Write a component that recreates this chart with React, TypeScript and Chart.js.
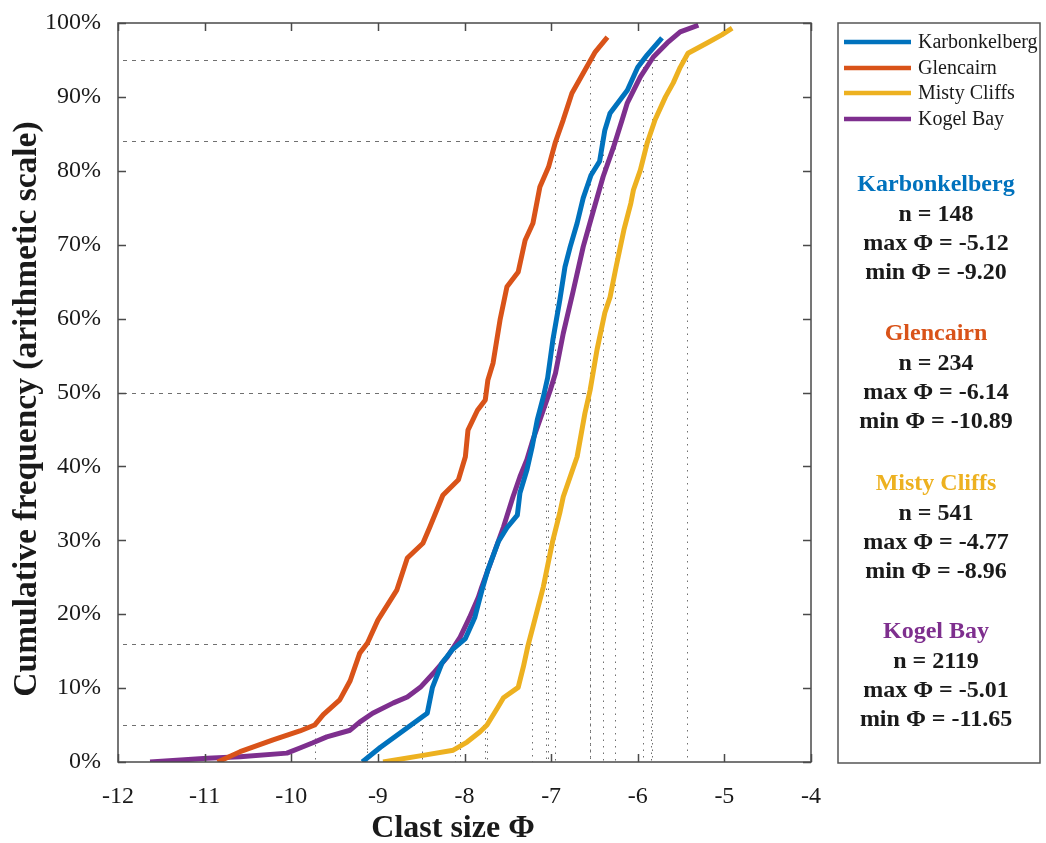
import React, { useEffect, useRef } from 'react';
import { Chart, registerables } from 'chart.js';

Chart.register(...registerables);

// ---------- data ----------
const seriesNames = ['Karbonkelberg', 'Glencairn', 'Misty Cliffs', 'Kogel Bay'];
const seriesColors = ['#0072BD', '#D95319', '#EDB120', '#7E2F8E'];

const karbonPhi = [-9.18, -8.97, -8.43, -8.37, -8.26, -8.14, -7.99, -7.88, -7.80, -7.73, -7.61, -7.51, -7.39, -7.36, -7.28, -7.22, -7.16, -7.09, -7.04, -6.98, -6.90, -6.84, -6.78, -6.70, -6.63, -6.54, -6.44, -6.38, -6.32, -6.12, -6.00, -5.89, -5.72];
const karbonPct = [0, 2, 6.6, 10.1, 13.4, 15.2, 16.7, 19.6, 23.2, 26, 29.8, 31.7, 33.4, 36.4, 39.5, 42.6, 46.3, 49.4, 52, 57.1, 62.5, 67, 69.7, 72.9, 76.3, 79.4, 81.3, 85.5, 87.8, 90.9, 94, 95.7, 98];

const glenPhi = [-10.85, -10.59, -10.21, -9.90, -9.73, -9.63, -9.44, -9.32, -9.21, -9.12, -9.00, -8.78, -8.66, -8.48, -8.40, -8.25, -8.07, -7.99, -7.96, -7.85, -7.76, -7.73, -7.67, -7.59, -7.51, -7.38, -7.30, -7.21, -7.13, -7.03, -6.95, -6.86, -6.76, -6.63, -6.49, -6.35];
const glenPct = [0, 1.4, 3.0, 4.2, 5.0, 6.4, 8.4, 11.0, 14.7, 16.1, 19.2, 23.3, 27.6, 29.6, 31.8, 36.1, 38.2, 41.3, 44.9, 47.6, 49.0, 51.7, 54.0, 59.8, 64.3, 66.3, 70.6, 72.9, 77.8, 80.5, 83.9, 86.9, 90.5, 93.2, 96.1, 98.1];

const mistyPhi = [-8.94, -8.48, -8.13, -7.97, -7.82, -7.74, -7.62, -7.55, -7.38, -7.32, -7.27, -7.21, -7.15, -7.09, -7.05, -6.98, -6.90, -6.86, -6.70, -6.61, -6.55, -6.47, -6.38, -6.32, -6.25, -6.16, -6.08, -6.05, -5.97, -5.89, -5.80, -5.68, -5.59, -5.51, -5.42, -5.20, -5.03, -4.91];
const mistyPct = [0, 0.9, 1.6, 2.7, 4.1, 5.0, 7.3, 8.7, 10.1, 12.9, 15.6, 18.3, 21.0, 23.7, 26.0, 30.0, 33.7, 35.9, 41.3, 47.2, 50.3, 55.8, 60.8, 62.9, 67.0, 72.0, 75.6, 77.4, 80.1, 83.8, 86.9, 90.0, 91.9, 94.0, 95.9, 97.3, 98.4, 99.3];

const kogelPhi = [-11.63, -10.97, -10.59, -10.05, -9.90, -9.75, -9.59, -9.32, -9.21, -9.06, -8.82, -8.66, -8.51, -8.36, -8.20, -8.05, -7.94, -7.84, -7.80, -7.55, -7.44, -7.36, -7.28, -7.21, -7.13, -7.01, -6.95, -6.86, -6.75, -6.63, -6.51, -6.40, -6.28, -6.18, -6.12, -5.97, -5.82, -5.66, -5.51, -5.30];
const kogelPct = [0, 0.5, 0.7, 1.2, 1.9, 2.6, 3.4, 4.3, 5.4, 6.6, 8.0, 8.8, 10.1, 12.0, 14.2, 16.9, 19.6, 22.3, 23.7, 31.8, 35.9, 38.6, 40.9, 43.6, 46.3, 50.3, 52.6, 58.0, 63.5, 69.7, 74.7, 79.2, 83.2, 86.9, 89.2, 92.7, 95.4, 97.3, 98.8, 99.7];

// percentile reference levels and the Φ values where each curve meets them
const percentileLevels = [5, 16, 50, 84, 95];
const karbonPctl = [-8.49, -8.05, -7.06, -6.40, -5.94];
const glenPctl = [-9.73, -9.12, -7.76, -6.95, -6.55];
const mistyPctl = [-7.74, -7.22, -6.55, -5.85, -5.43];
const kogelPctl = [-9.12, -8.11, -7.04, -6.26, -5.83];

const xTickValues = [-12, -11, -10, -9, -8, -7, -6, -5, -4];
const yTickValues = [0, 10, 20, 30, 40, 50, 60, 70, 80, 90, 100];

const statsN = ['148', '234', '541', '2119'];
const statsMax = ['-5.12', '-6.14', '-4.77', '-5.01'];
const statsMin = ['-9.20', '-10.89', '-8.96', '-11.65'];

const seriesPhi = [karbonPhi, glenPhi, mistyPhi, kogelPhi];
const seriesPct = [karbonPct, glenPct, mistyPct, kogelPct];
const seriesPctl = [karbonPctl, glenPctl, mistyPctl, kogelPctl];

const SERIF = '"Liberation Serif", "Times New Roman", serif';

const decorPlugin = {
  id: 'decor',
  beforeDatasetsDraw(chart: any) {
    const { ctx, chartArea: a, scales } = chart;
    const x = scales.x, y = scales.y;
    ctx.save();
    ctx.strokeStyle = '#707070';
    ctx.lineWidth = 1;
    seriesPctl.forEach((vals) => {
      vals.forEach((v, i) => {
        const py = Math.round(y.getPixelForValue(percentileLevels[i])) + 0.5;
        const px = Math.round(x.getPixelForValue(v)) + 0.5;
        ctx.setLineDash([4, 5]);
        ctx.beginPath();
        ctx.moveTo(a.left + 5, py);
        ctx.lineTo(px, py);
        ctx.stroke();
        ctx.setLineDash([1.5, 5]);
        ctx.beginPath();
        ctx.moveTo(px, py);
        ctx.lineTo(px, a.bottom);
        ctx.stroke();
      });
    });
    ctx.restore();
  },
  afterDraw(chart: any) {
    const { ctx, chartArea: a, scales } = chart;
    const x = scales.x, y = scales.y;
    ctx.save();
    // frame
    ctx.strokeStyle = '#4a4a4a';
    ctx.lineWidth = 1.5;
    ctx.setLineDash([]);
    ctx.strokeRect(a.left, a.top, a.right - a.left, a.bottom - a.top);
    // inward ticks
    const tl = 8;
    ctx.beginPath();
    xTickValues.forEach((v) => {
      const px = Math.round(x.getPixelForValue(v)) + 0.5;
      ctx.moveTo(px, a.bottom); ctx.lineTo(px, a.bottom - tl);
      ctx.moveTo(px, a.top); ctx.lineTo(px, a.top + tl);
    });
    yTickValues.forEach((v) => {
      const py = Math.round(y.getPixelForValue(v)) + 0.5;
      ctx.moveTo(a.left, py); ctx.lineTo(a.left + tl, py);
      ctx.moveTo(a.right, py); ctx.lineTo(a.right - tl, py);
    });
    ctx.stroke();

    // axis titles
    ctx.fillStyle = '#1a1a1a';
    ctx.font = `bold 32px ${SERIF}`;
    ctx.textAlign = 'center';
    ctx.textBaseline = 'middle';
    ctx.fillText('Clast size Φ', 453, 829);
    ctx.save();
    ctx.translate(27, 409);
    ctx.rotate(-Math.PI / 2);
    ctx.font = `bold 33.5px ${SERIF}`;
    ctx.fillText('Cumulative frequency (arithmetic scale)', 0, 0);
    ctx.restore();

    // legend box
    ctx.strokeStyle = '#555';
    ctx.lineWidth = 1.5;
    ctx.strokeRect(838, 23, 202, 740);
    const legendY = [42, 68, 93, 119];
    seriesNames.forEach((name, i) => {
      ctx.strokeStyle = seriesColors[i];
      ctx.lineWidth = 4.5;
      ctx.beginPath();
      ctx.moveTo(844, legendY[i]);
      ctx.lineTo(911, legendY[i]);
      ctx.stroke();
      ctx.fillStyle = '#1a1a1a';
      ctx.font = `20px ${SERIF}`;
      ctx.textAlign = 'left';
      ctx.textBaseline = 'middle';
      ctx.fillText(name, 918, legendY[i] + 1);
    });

    // stats blocks
    const blockTop = [185, 334, 484, 632];
    const rowGap = 29.3;
    ctx.textAlign = 'center';
    ctx.font = `bold 24px ${SERIF}`;
    seriesNames.forEach((name, i) => {
      const t = blockTop[i];
      ctx.fillStyle = seriesColors[i];
      ctx.fillText(name, 936, t);
      ctx.fillStyle = '#1a1a1a';
      ctx.fillText(`n = ${statsN[i]}`, 936, t + rowGap);
      ctx.fillText(`max Φ = ${statsMax[i]}`, 936, t + rowGap * 2);
      ctx.fillText(`min Φ = ${statsMin[i]}`, 936, t + rowGap * 3);
    });
    ctx.restore();
  },
};

export default function App() {
  const canvasRef = useRef<HTMLCanvasElement | null>(null);

  useEffect(() => {
    document.body.style.margin = '0';
    const canvas = canvasRef.current;
    if (!canvas) return;
    const datasets = seriesNames.map((name, i) => ({
      label: name,
      data: seriesPhi[i].map((p, j) => ({ x: p, y: seriesPct[i][j] })),
      borderColor: seriesColors[i],
      backgroundColor: seriesColors[i],
      borderWidth: 5,
      pointRadius: 0,
      showLine: true,
      fill: false,
      tension: 0,
      borderJoinStyle: 'round' as const,
    }));
    const chart = new Chart(canvas, {
      type: 'scatter',
      data: { datasets },
      options: {
        responsive: false,
        animation: false,
        devicePixelRatio: 1,
        layout: { padding: { left: 0, top: 23, right: 235, bottom: 0 } },
        plugins: { legend: { display: false }, tooltip: { enabled: false } },
        scales: {
          x: {
            type: 'linear',
            min: -12,
            max: -4,
            ticks: {
              stepSize: 1,
              color: '#1a1a1a',
              padding: 20,
              font: { family: SERIF, size: 24 },
            },
            grid: { display: false, drawTicks: false },
            border: { display: false },
            afterFit: (s: any) => { s.height = 81; s.paddingLeft = 0; s.paddingRight = 0; },
          },
          y: {
            type: 'linear',
            min: 0,
            max: 100,
            ticks: {
              stepSize: 10,
              color: '#1a1a1a',
              padding: 17,
              font: { family: SERIF, size: 24 },
              callback: (v: any) => `${v}%`,
            },
            grid: { display: false, drawTicks: false },
            border: { display: false },
            afterFit: (s: any) => { s.width = 118; s.paddingTop = 0; s.paddingBottom = 0; },
          },
        },
      },
      plugins: [decorPlugin],
    });
    return () => chart.destroy();
  }, []);

  return (
    <div style={{ width: 1046, height: 843, position: 'relative', background: '#fff' }}>
      <canvas ref={canvasRef} width={1046} height={843} style={{ display: 'block' }} />
    </div>
  );
}
